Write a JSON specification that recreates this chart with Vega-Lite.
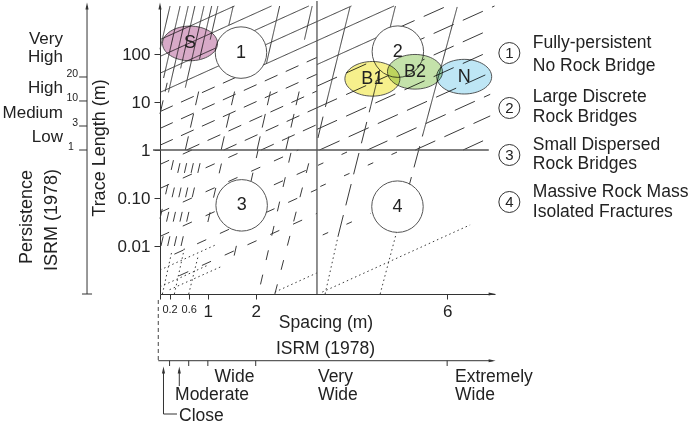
{
  "$schema": "https://vega.github.io/schema/vega-lite/v6.json",
  "width": 335,
  "height": 288,
  "padding": {"left": 160, "top": 6, "right": 205, "bottom": 132},
  "autosize": {"type": "none"},
  "config": {
    "view": {"stroke": null},
    "axis": {"labelFont": "Liberation Sans", "labelColor": "#222", "domainColor": "#333", "tickColor": "#333", "grid": false},
    "text": {"font": "Liberation Sans", "color": "#222"}
  },
  "datasets": {
    "segs": [
      {"x": 0, "y": 125.9, "x2": 0.21, "y2": 1000, "s": "solid"},
      {"x": 0.075, "y": 31.62, "x2": 0.42, "y2": 1000, "s": "solid"},
      {"x": 0.176, "y": 15.85, "x2": 0.59, "y2": 1000, "s": "solid"},
      {"x": 0.431, "y": 50.12, "x2": 0.73, "y2": 1000, "s": "solid"},
      {"x": 0.529, "y": 19.95, "x2": 0.92, "y2": 1000, "s": "solid"},
      {"x": 0.827, "y": 79.43, "x2": 1.08, "y2": 1000, "s": "solid"},
      {"x": 1.049, "y": 199.5, "x2": 1.21, "y2": 1000, "s": "solid"},
      {"x": 1.438, "y": 398.1, "x2": 1.53, "y2": 1000, "s": "solid"},
      {"x": 2.224, "y": 63.1, "x2": 2.5, "y2": 1000, "s": "solid"},
      {"x": 3.019, "y": 199.5, "x2": 3.18, "y2": 1000, "s": "solid"},
      {"x": 0, "y": 199.5, "x2": 1.556, "y2": 1000, "s": "solid"},
      {"x": 0, "y": 89.13, "x2": 2.33, "y2": 1000, "s": "solid"},
      {"x": 0, "y": 39.81, "x2": 3.11, "y2": 1000, "s": "solid"},
      {"x": 0, "y": 15.85, "x2": 4.0, "y2": 1000, "s": "solid"},
      {"x": 1.89, "y": 44.67, "x2": 4.89, "y2": 1000, "s": "solid"},
      {"x": 0, "y": 6.31, "x2": 1.89, "y2": 44.67, "s": "dash2"},
      {"x": 0, "y": 2.818, "x2": 3.28, "y2": 85.11, "s": "dash2"},
      {"x": 0, "y": 1.259, "x2": 3.28, "y2": 38.02, "s": "dash2"},
      {"x": 0.556, "y": 1, "x2": 3.28, "y2": 16.98, "s": "dash2"},
      {"x": 1.333, "y": 1, "x2": 3.28, "y2": 7.586, "s": "dash2"},
      {"x": 2.111, "y": 1, "x2": 3.28, "y2": 3.388, "s": "dash2"},
      {"x": 0, "y": 5.623, "x2": 0.15, "y2": 25.12, "s": "dash2"},
      {"x": 0.528, "y": 1, "x2": 0.85, "y2": 25.12, "s": "dash2"},
      {"x": 1.278, "y": 1, "x2": 1.6, "y2": 25.12, "s": "dash2"},
      {"x": 2.028, "y": 1, "x2": 2.35, "y2": 25.12, "s": "dash2"},
      {"x": 2.628, "y": 1, "x2": 2.95, "y2": 25.12, "s": "dash2"},
      {"x": 3.3, "y": 1.778, "x2": 3.49, "y2": 10.96, "s": "dash"},
      {"x": 3.49, "y": 10.96, "x2": 3.97, "y2": 955, "s": "solid"},
      {"x": 4.4, "y": 7.943, "x2": 4.92, "y2": 1000, "s": "solid"},
      {"x": 3.28, "y": 60.26, "x2": 4.9, "y2": 323.6, "s": "solid"},
      {"x": 4.9, "y": 323.6, "x2": 6.0, "y2": 1000, "s": "dash"},
      {"x": 3.28, "y": 21.38, "x2": 6.99, "y2": 1000, "s": "dash"},
      {"x": 3.28, "y": 7.586, "x2": 6.9, "y2": 323.6, "s": "dash"},
      {"x": 3.28, "y": 2.692, "x2": 6.9, "y2": 114.8, "s": "dash"},
      {"x": 3.333, "y": 1, "x2": 6.9, "y2": 40.74, "s": "dash"},
      {"x": 4.333, "y": 1, "x2": 6.9, "y2": 14.45, "s": "dash"},
      {"x": 5.333, "y": 1, "x2": 6.9, "y2": 5.129, "s": "dash"},
      {"x": 6.333, "y": 1, "x2": 6.9, "y2": 1.82, "s": "dash"},
      {"x": 0, "y": 0.03715, "x2": 0.33, "y2": 1, "s": "short"},
      {"x": 0.02, "y": 0.01, "x2": 0.48, "y2": 1, "s": "short"},
      {"x": 0.16, "y": 0.01, "x2": 0.62, "y2": 1, "s": "short"},
      {"x": 0.3, "y": 0.01, "x2": 0.76, "y2": 1, "s": "short"},
      {"x": 0.44, "y": 0.01, "x2": 0.9, "y2": 1, "s": "short"},
      {"x": 1.0, "y": 0.03162, "x2": 1.35, "y2": 1, "s": "short"},
      {"x": 1.55, "y": 0.00631, "x2": 2.05, "y2": 1, "s": "short"},
      {"x": 2.1, "y": 0.001585, "x2": 2.75, "y2": 1, "s": "short"},
      {"x": 2.4, "y": 0.001, "x2": 3.18, "y2": 1, "s": "short"},
      {"x": 0, "y": 0.5012, "x2": 0.667, "y2": 1, "s": "short"},
      {"x": 0, "y": 0.1585, "x2": 1.78, "y2": 1, "s": "short"},
      {"x": 0, "y": 0.05012, "x2": 2.89, "y2": 1, "s": "short"},
      {"x": 0, "y": 0.01585, "x2": 3.28, "y2": 0.4786, "s": "short"},
      {"x": 0.3, "y": 0.006761, "x2": 3.28, "y2": 0.1514, "s": "short"},
      {"x": 0.4, "y": 0.002399, "x2": 3.28, "y2": 0.04786, "s": "short"},
      {"x": 0, "y": 0.003162, "x2": 1.2, "y2": 0.01096, "s": "dot"},
      {"x": 0, "y": 0.001413, "x2": 1.0, "y2": 0.003981, "s": "dot"},
      {"x": 0.2, "y": 0.00123, "x2": 1.3, "y2": 0.003802, "s": "dot"},
      {"x": 0.05, "y": 0.001, "x2": 0.25, "y2": 0.007943, "s": "dot"},
      {"x": 0.3, "y": 0.001, "x2": 0.52, "y2": 0.01, "s": "dot"},
      {"x": 0.6, "y": 0.001, "x2": 0.8, "y2": 0.00631, "s": "dot"},
      {"x": 2.4, "y": 0.001096, "x2": 3.28, "y2": 0.002754, "s": "dot"},
      {"x": 3.45, "y": 0.001, "x2": 3.72, "y2": 0.01585, "s": "dot"},
      {"x": 3.72, "y": 0.01585, "x2": 4.4, "y2": 7.943, "s": "dash"},
      {"x": 4.6, "y": 0.001, "x2": 4.96, "y2": 0.02239, "s": "dot"},
      {"x": 4.96, "y": 0.02239, "x2": 5.5, "y2": 2.239, "s": "dash"},
      {"x": 5.5, "y": 2.239, "x2": 6.21, "y2": 955, "s": "solid"},
      {"x": 3.39, "y": 0.001096, "x2": 6.48, "y2": 0.02754, "s": "dot"},
      {"x": 3.35, "y": 0.1738, "x2": 5.05, "y2": 1, "s": "sparse"},
      {"x": 3.3, "y": 0.4786, "x2": 4.0, "y2": 1, "s": "sparse"},
      {"x": 3.4, "y": 0.01698, "x2": 4.4, "y2": 0.04786, "s": "sparse"}
    ],
    "dividers": [
      {"x": -0.146, "y": 1, "x2": 6.87, "y2": 1},
      {"x": 3.28, "y": 0.001, "x2": 3.28, "y2": 1270}
    ],
    "auxlines": [
      {"x": -1.525, "y": 0.001, "x2": -1.525, "y2": 1000},
      {"x": -1.69, "y": 33.2, "x2": -1.525, "y2": 33.2},
      {"x": -1.69, "y": 10.5, "x2": -1.525, "y2": 10.5},
      {"x": -1.69, "y": 3.16, "x2": -1.525, "y2": 3.16},
      {"x": -1.69, "y": 1, "x2": -1.525, "y2": 1},
      {"x": -1.63, "y": 0.001, "x2": -1.42, "y2": 0.001},
      {"x": -0.036, "y": 4.076e-5, "x2": 6.95, "y2": 4.076e-5},
      {"x": 0.2, "y": 4.076e-5, "x2": 0.2, "y2": 3.162e-5},
      {"x": 0.6, "y": 4.076e-5, "x2": 0.6, "y2": 3.162e-5},
      {"x": 1, "y": 4.076e-5, "x2": 1, "y2": 3.162e-5},
      {"x": 2, "y": 4.076e-5, "x2": 2, "y2": 3.162e-5},
      {"x": 6, "y": 4.076e-5, "x2": 6, "y2": 3.162e-5},
      {"x": 0.073, "y": 2.61e-5, "x2": 0.073, "y2": 3.16e-6},
      {"x": 0.073, "y": 3.16e-6, "x2": 0.355, "y2": 3.16e-6},
      {"x": 0.403, "y": 2.61e-5, "x2": 0.403, "y2": 1.21e-5}
    ],
    "dashv": [
      {"x": -0.036, "y": 0.00075, "x2": -0.036, "y2": 4.076e-5}
    ],
    "arrows": [
      {"x": 0, "y": 1000, "dir": "up"},
      {"x": -1.525, "y": 1000, "dir": "up"},
      {"x": 6.94, "y": 0.001, "dir": "right"},
      {"x": 6.94, "y": 4.076e-5, "dir": "right"},
      {"x": 0.073, "y": 2.61e-5, "dir": "up"},
      {"x": 0.403, "y": 2.61e-5, "dir": "up"}
    ],
    "circles": [
      {"x": 1.692, "y": 107, "label": "1"},
      {"x": 4.97, "y": 112, "label": "2"},
      {"x": 1.706, "y": 0.0703, "label": "3"},
      {"x": 4.962, "y": 0.066, "label": "4"}
    ],
    "ellipses": [
      {"x": 0.627, "y": 166, "label": "S"},
      {"x": 4.438, "y": 30.4, "label": "B1"},
      {"x": 5.328, "y": 42.6, "label": "B2"},
      {"x": 6.356, "y": 33.7, "label": "N"}
    ],
    "legendmarks": [
      {"x": 7.3, "y": 104.7, "label": "1"},
      {"x": 7.3, "y": 7.5, "label": "2"},
      {"x": 7.3, "y": 0.787, "label": "3"},
      {"x": 7.3, "y": 0.0826, "label": "4"}
    ],
    "legendtext": [
      {"x": 7.79, "y": 169.4, "text": "Fully-persistent"},
      {"x": 7.79, "y": 56.2, "text": "No Rock Bridge"},
      {"x": 7.79, "y": 12.7, "text": "Large Discrete"},
      {"x": 7.79, "y": 4.87, "text": "Rock Bridges"},
      {"x": 7.79, "y": 1.27, "text": "Small Dispersed"},
      {"x": 7.79, "y": 0.511, "text": "Rock Bridges"},
      {"x": 7.79, "y": 0.1334, "text": "Massive Rock Mass"},
      {"x": 7.79, "y": 0.0511, "text": "Isolated Fractures"}
    ],
    "categories": [
      {"x": -2.027, "y": 205, "text": "Very"},
      {"x": -2.027, "y": 86.6, "text": "High"},
      {"x": -2.027, "y": 19.6, "text": "High"},
      {"x": -2.027, "y": 5.9, "text": "Medium"},
      {"x": -2.027, "y": 1.87, "text": "Low"}
    ],
    "pticks": [
      {"x": -1.71, "y": 33.2, "text": "20"},
      {"x": -1.71, "y": 10.5, "text": "10"},
      {"x": -1.71, "y": 3.16, "text": "3"},
      {"x": -1.8, "y": 1, "text": "1"}
    ],
    "rotated": [
      {"x": -2.779, "y": 0.0402, "text": "Persistence"},
      {"x": -2.267, "y": 0.0348, "text": "ISRM (1978)"},
      {"x": -1.254, "y": 1.1, "text": "Trace Length (m)"}
    ],
    "centered": [
      {"x": 3.468, "y": 0.000249, "text": "Spacing (m)"},
      {"x": 3.458, "y": 7.15e-5, "text": "ISRM (1978)"},
      {"x": 1.557, "y": 1.91e-5, "text": "Wide"},
      {"x": 1.087, "y": 7.87e-6, "text": "Moderate"}
    ],
    "lefttext": [
      {"x": 0.397, "y": 2.87e-6, "text": "Close"},
      {"x": 3.3, "y": 1.91e-5, "text": "Very"},
      {"x": 3.3, "y": 7.87e-6, "text": "Wide"},
      {"x": 6.164, "y": 1.91e-5, "text": "Extremely"},
      {"x": 6.164, "y": 7.87e-6, "text": "Wide"}
    ]
  },
  "layer": [
    {
      "data": {"name": "segs"},
      "mark": {"type": "rule", "color": "#3a3a3a", "strokeWidth": 1},
      "encoding": {
        "x": {
          "field": "x", "type": "quantitative",
          "scale": {"domain": [0, 7], "nice": false, "zero": false},
          "axis": {
            "title": null,
            "values": [0, 0.2, 0.6, 1, 2, 6],
            "labelExpr": "datum.value == 0 ? '' : datum.value == 0.2 ? '0.2' : datum.value == 0.6 ? '0.6' : datum.value == 1 ? '1' : datum.value == 2 ? '2' : '6'",
            "tickSize": 5,
            "labelPadding": 4,
            "labelFontSize": {"condition": {"test": "datum.value < 1", "value": 11}, "value": 17},
            "labelFlush": false,
            "labelOverlap": false
          }
        },
        "y": {
          "field": "y", "type": "quantitative",
          "scale": {"type": "log", "domain": [0.001, 1000], "nice": false},
          "axis": {
            "title": null,
            "values": [0.01, 0.1, 1, 10, 100],
            "labelExpr": "datum.value == 100 ? '100' : datum.value == 10 ? '10' : datum.value == 1 ? '1' : datum.value == 0.1 ? '0.10' : '0.01'",
            "tickSize": 6,
            "labelPadding": 4,
            "labelFontSize": 17,
            "labelOverlap": false
          }
        },
        "x2": {"field": "x2"},
        "y2": {"field": "y2"},
        "strokeDash": {
          "field": "s", "type": "nominal",
          "scale": {"domain": ["solid", "dash", "dash2", "short", "dot", "sparse"], "range": [[1, 0], [22, 10], [14, 9], [10, 15], [1.5, 3], [6, 20]]},
          "legend": null
        }
      }
    },
    {
      "data": {"name": "dividers"},
      "mark": {"type": "rule", "color": "#555", "strokeWidth": 1.3},
      "encoding": {
        "x": {"field": "x", "type": "quantitative"},
        "y": {"field": "y", "type": "quantitative"},
        "x2": {"field": "x2"},
        "y2": {"field": "y2"}
      }
    },
    {
      "data": {"name": "auxlines"},
      "mark": {"type": "rule", "color": "#333", "strokeWidth": 1},
      "encoding": {
        "x": {"field": "x", "type": "quantitative"},
        "y": {"field": "y", "type": "quantitative"},
        "x2": {"field": "x2"},
        "y2": {"field": "y2"}
      }
    },
    {
      "data": {"name": "dashv"},
      "mark": {"type": "rule", "color": "#444", "strokeWidth": 1, "strokeDash": [4, 3]},
      "encoding": {
        "x": {"field": "x", "type": "quantitative"},
        "y": {"field": "y", "type": "quantitative"},
        "x2": {"field": "x2"},
        "y2": {"field": "y2"}
      }
    },
    {
      "data": {"name": "arrows"},
      "mark": {"type": "point", "filled": true, "color": "#333", "size": 49, "opacity": 1},
      "encoding": {
        "x": {"field": "x", "type": "quantitative"},
        "y": {"field": "y", "type": "quantitative"},
        "shape": {
          "field": "dir", "type": "nominal",
          "scale": {"domain": ["up", "right"], "range": ["M-0.45,1L0,-1L0.45,1Z", "M-1,-0.45L1,0L-1,0.45Z"]},
          "legend": null
        }
      }
    },
    {
      "data": {"name": "circles"},
      "mark": {"type": "point", "shape": "circle", "filled": true, "fill": "white", "stroke": "#555", "strokeWidth": 1, "size": 2650, "opacity": 1},
      "encoding": {
        "x": {"field": "x", "type": "quantitative"},
        "y": {"field": "y", "type": "quantitative"}
      }
    },
    {
      "data": {"name": "ellipses"},
      "mark": {
        "type": "point",
        "shape": "M1,0C1,0.348,0.552,0.63,0,0.63C-0.552,0.63,-1,0.348,-1,0C-1,-0.348,-0.552,-0.63,0,-0.63C0.552,-0.63,1,-0.348,1,0Z",
        "filled": true, "size": 3025, "stroke": "#444", "strokeWidth": 0.9, "opacity": 1, "blend": "multiply"
      },
      "encoding": {
        "x": {"field": "x", "type": "quantitative"},
        "y": {"field": "y", "type": "quantitative"},
        "fill": {
          "field": "label", "type": "nominal",
          "scale": {"domain": ["S", "B1", "B2", "N"], "range": ["#d8aac8", "#f6f08c", "#c4e2aa", "#bee6f5"]},
          "legend": null
        }
      }
    },
    {
      "data": {"name": "circles"},
      "mark": {"type": "text", "fontSize": 18, "align": "center", "baseline": "middle"},
      "encoding": {
        "x": {"field": "x", "type": "quantitative"},
        "y": {"field": "y", "type": "quantitative"},
        "text": {"field": "label"}
      }
    },
    {
      "data": {"name": "ellipses"},
      "mark": {"type": "text", "fontSize": 18, "align": "center", "baseline": "middle"},
      "encoding": {
        "x": {"field": "x", "type": "quantitative"},
        "y": {"field": "y", "type": "quantitative"},
        "text": {"field": "label"}
      }
    },
    {
      "data": {"name": "legendmarks"},
      "mark": {"type": "point", "shape": "circle", "filled": true, "fill": "white", "stroke": "#333", "strokeWidth": 1, "size": 441, "opacity": 1},
      "encoding": {
        "x": {"field": "x", "type": "quantitative"},
        "y": {"field": "y", "type": "quantitative"}
      }
    },
    {
      "data": {"name": "legendmarks"},
      "mark": {"type": "text", "fontSize": 15, "align": "center", "baseline": "middle"},
      "encoding": {
        "x": {"field": "x", "type": "quantitative"},
        "y": {"field": "y", "type": "quantitative"},
        "text": {"field": "label"}
      }
    },
    {
      "data": {"name": "legendtext"},
      "mark": {"type": "text", "fontSize": 17.5, "align": "left", "baseline": "middle"},
      "encoding": {
        "x": {"field": "x", "type": "quantitative"},
        "y": {"field": "y", "type": "quantitative"},
        "text": {"field": "text"}
      }
    },
    {
      "data": {"name": "categories"},
      "mark": {"type": "text", "fontSize": 17, "align": "right", "baseline": "middle"},
      "encoding": {
        "x": {"field": "x", "type": "quantitative"},
        "y": {"field": "y", "type": "quantitative"},
        "text": {"field": "text"}
      }
    },
    {
      "data": {"name": "pticks"},
      "mark": {"type": "text", "fontSize": 10.5, "align": "right", "baseline": "alphabetic"},
      "encoding": {
        "x": {"field": "x", "type": "quantitative"},
        "y": {"field": "y", "type": "quantitative"},
        "text": {"field": "text"}
      }
    },
    {
      "data": {"name": "rotated"},
      "mark": {"type": "text", "fontSize": 18, "align": "center", "baseline": "middle", "angle": 270},
      "encoding": {
        "x": {"field": "x", "type": "quantitative"},
        "y": {"field": "y", "type": "quantitative"},
        "text": {"field": "text"}
      }
    },
    {
      "data": {"name": "centered"},
      "mark": {"type": "text", "fontSize": 17.5, "align": "center", "baseline": "middle"},
      "encoding": {
        "x": {"field": "x", "type": "quantitative"},
        "y": {"field": "y", "type": "quantitative"},
        "text": {"field": "text"}
      }
    },
    {
      "data": {"name": "lefttext"},
      "mark": {"type": "text", "fontSize": 17.5, "align": "left", "baseline": "middle"},
      "encoding": {
        "x": {"field": "x", "type": "quantitative"},
        "y": {"field": "y", "type": "quantitative"},
        "text": {"field": "text"}
      }
    }
  ]
}
